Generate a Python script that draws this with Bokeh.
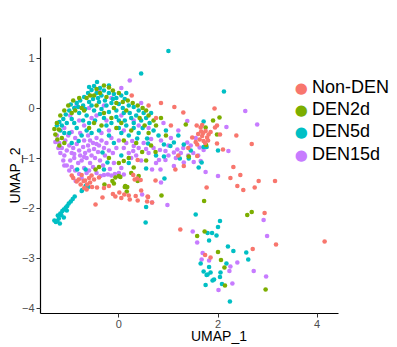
from bokeh.plotting import figure
from bokeh.models import Range1d, FixedTicker, Label, ColumnDataSource
from bokeh.embed import file_html
from bokeh.resources import INLINE

# ---------------- data (UMAP coordinates) ----------------
groups = ["Non-DEN", "DEN2d", "DEN5d", "DEN15d"]
colors = ["#F8766D", "#7CAE00", "#00BFC4", "#C77CFF"]
x_ticks = [0, 2, 4]
y_ticks = [-4, -3, -2, -1, 0, 1]

non_den = [
    (0.26, 0.25), (1.12, 0.02), (1.30, -0.09), (1.93, -0.01), (0.85, 0.10), (0.60, 0.05),
    (1.57, -0.35), (1.98, -0.35), (1.94, -0.39), (1.68, -0.34), (1.65, -0.39), (0.75, -0.20),
    (1.05, -0.35), (1.75, -0.46), (1.48, -0.59), (1.63, -0.63), (1.71, -0.66), (1.78, -0.59),
    (1.68, -0.56), (1.58, -0.73), (1.81, -0.53), (1.70, -0.50), (1.74, -0.70), (1.66, -0.47),
    (1.60, -0.52), (1.55, -0.68), (1.80, -0.65), (1.85, -0.48), (2.04, -0.53), (2.37, -0.55),
    (2.68, -0.72), (1.98, -0.71), (2.10, -0.83), (1.58, -0.96), (1.40, -0.80), (1.20, -0.95),
    (2.31, -1.18), (1.31, -1.16), (1.14, -1.23), (0.38, -1.04), (2.25, -1.40), (2.45, -1.34),
    (2.82, -1.46), (3.15, -1.46), (2.39, -1.56), (2.51, -1.64), (2.74, -1.59), (1.77, -1.59),
    (2.94, -2.10), (1.24, -2.43), (3.17, -2.73), (4.15, -2.67), (2.70, -2.82), (1.74, -2.94),
    (1.85, -2.99), (0.74, -1.45), (0.67, -1.89), (0.57, -1.87), (0.59, -1.78), (0.38, -1.85),
    (0.22, -1.83), (0.20, -1.75), (0.34, -1.76), (0.11, -1.73), (0.01, -1.69), (-0.07, -1.77),
    (-0.12, -1.72), (-0.33, -1.79), (-0.47, -1.93), (0.29, -1.34), (0.44, -1.44), (0.37, -1.41),
    (0.32, -1.43), (-0.20, -1.56), (-0.40, -1.39), (-0.50, -1.43), (-0.54, -1.58), (-0.64, -1.53),
    (-0.71, -1.46), (-0.77, -1.53), (-0.85, -1.47), (-0.65, -1.63), (-0.58, -1.49), (-0.75, -1.34),
    (-0.81, -1.43), (-0.44, -1.59), (-0.60, -1.40), (-0.92, -1.40), (-0.68, -1.45), (0.58, -1.77),
    (-0.95, -1.35), (-0.55, -1.35), (-0.30, -1.60), (0.05, -1.80), (0.45, -1.65), (-0.70, -1.60),
]

den2d = [
    (-0.20, 0.41), (-0.30, 0.45), (-0.45, 0.38), (-0.58, 0.25), (-0.65, 0.20), (-0.25, 0.22),
    (-0.12, 0.35), (0.00, 0.30), (0.08, 0.12), (0.18, 0.15), (0.28, 0.10), (0.38, 0.05),
    (0.48, 0.00), (0.55, -0.05), (0.60, -0.15), (0.70, -0.25), (0.75, -0.35), (0.52, -0.35),
    (-0.80, 0.20), (-0.92, 0.15), (-1.02, 0.05), (-1.10, -0.05), (-1.18, -0.15), (-1.25, -0.30),
    (-1.30, -0.42), (-1.28, -0.53), (-1.21, -0.43), (-1.24, -0.63), (-1.15, -0.60), (-1.10, -0.70),
    (-0.88, -0.05), (-0.70, -0.05), (-0.45, 0.05), (-0.10, 0.00), (0.15, -0.05), (-0.35, -0.35),
    (-0.05, -0.40), (0.25, -0.45), (-0.60, -0.40), (0.10, -0.65), (0.35, -0.70),
    (-0.38, 0.30), (-0.50, 0.25), (-0.05, 0.10), (-0.75, 0.00), (-0.95, -0.10), (-0.30, -0.10),
    (0.05, -0.30), (0.42, -0.20), (-0.15, -0.20), (-0.50, -0.30), (-1.20, -0.75), (0.60, -0.50),
    (0.85, -0.20), (0.95, -0.55),
    (0.47, -0.88), (0.65, -0.75), (0.74, -0.88), (1.41, -0.97), (1.76, -0.74), (1.75, -0.39),
    (1.98, -0.53), (1.35, -0.33), (1.90, -0.25), (2.03, -0.19), (0.10, -1.06), (0.20, -1.00),
    (-0.47, -1.23), (-0.40, -1.18), (-0.20, -1.00), (0.00, -1.10), (0.55, -1.05),
    (0.30, -1.19), (0.40, -1.36), (0.38, -1.46), (0.16, -1.67),
    (0.17, -1.58), (0.12, -1.58), (-0.10, -1.51), (-0.29, -1.53), (-0.13, -1.46), (0.13, -1.56),
    (0.00, -1.36), (-0.07, -1.39), (0.03, -1.38), (0.25, -1.30), (0.86, -1.75),
    (1.72, -1.86), (2.59, -2.14), (2.68, -2.08), (1.73, -2.47), (1.58, -2.56), (2.00, -2.88),
    (2.06, -3.04), (2.13, -3.19), (2.14, -3.55), (2.96, -3.63),
]

den5d = [
    (1.00, 1.14), (0.45, 0.69), (2.12, 0.33),
    (-0.44, 0.52), (-0.50, 0.44), (-0.38, 0.40), (-0.30, 0.35), (-0.55, 0.36), (-0.62, 0.30),
    (-0.45, 0.30), (-0.35, 0.25), (-0.20, 0.30), (-0.10, 0.28), (-0.05, 0.20), (0.05, 0.25),
    (0.12, 0.18), (-0.70, 0.22), (-0.78, 0.15), (-0.85, 0.10), (-0.97, 0.07), (-0.90, 0.00),
    (-1.00, -0.05), (-1.07, -0.13), (-1.12, -0.22), (-1.20, -0.28), (-1.25, -0.35), (-1.15, -0.35),
    (-1.05, -0.30), (-0.95, -0.22), (-0.80, -0.10), (-0.72, 0.05), (-0.60, 0.12), (-0.52, 0.18),
    (-0.40, 0.12), (-0.28, 0.15), (-0.15, 0.10), (0.00, 0.08), (0.20, 0.05), (0.30, 0.02),
    (0.40, -0.05), (0.50, -0.10), (0.55, -0.20), (0.62, -0.30), (0.45, -0.25), (0.35, -0.15),
    (0.25, -0.20), (0.10, -0.10), (-0.05, -0.05), (-0.20, -0.08), (-0.35, -0.02), (-0.50, -0.05),
    (-0.65, -0.15), (-0.60, -0.30), (-0.48, -0.25), (-0.30, -0.20), (-0.15, -0.30), (0.00, -0.25),
    (0.15, -0.35), (0.30, -0.40), (-0.85, -0.40), (-1.00, -0.50), (-0.75, -0.55), (-0.55, -0.50),
    (-0.40, -0.45), (-0.20, -0.55), (0.05, -0.50), (0.20, -0.55), (0.40, -0.50), (0.70, -0.45),
    (0.80, -0.55), (-0.81, -0.66), (-0.95, -0.70), (-0.10, -0.70),
    (-0.82, 0.02), (-0.68, -0.02), (-0.55, 0.05), (-0.42, 0.20), (-0.25, 0.05), (-0.12, 0.18),
    (0.08, 0.00), (0.22, -0.10), (-0.90, -0.30), (-0.72, -0.25), (-0.38, -0.12), (-0.25, -0.35),
    (-0.05, -0.18), (0.12, -0.25), (0.48, -0.40), (-1.10, -0.50), (-0.65, -0.45), (0.00, -0.40),
    (-0.20, 0.45), (-0.60, 0.42), (0.15, 0.30), (0.30, -0.30), (-1.18, -0.45), (0.65, -0.10),
    (0.37, -0.61), (0.57, -0.61), (0.59, -0.71), (0.91, -0.73), (1.04, -0.76), (1.11, -0.69),
    (1.31, -0.73), (0.91, -0.97), (1.23, -1.01), (1.41, -1.01), (1.61, -1.19), (1.67, -1.09),
    (1.71, -0.78), (1.77, -0.78), (2.00, -0.85), (1.71, -0.27), (1.20, -0.55), (0.95, -0.45),
    (1.45, -0.85), (0.75, -0.95), (0.55, -1.21), (-0.33, -0.89), (-0.23, -1.09), (-0.30, -1.23),
    (-0.67, -1.23), (-0.84, -1.23), (0.05, -0.95), (0.20, -1.10),
    (0.92, -1.41), (-0.65, -1.54), (-0.62, -1.58), (-0.67, -1.56), (-0.74, -1.64), (-0.75, -1.66),
    (0.54, -2.29), (0.55, -1.98),
    (-1.30, -2.25), (-1.24, -2.26), (-1.19, -2.31), (-1.21, -2.21), (-1.23, -2.15), (-1.18, -2.11),
    (-1.14, -2.06), (-1.11, -2.03), (-1.07, -1.99), (-1.04, -1.96), (-1.01, -1.91), (-0.97, -1.87),
    (-0.89, -1.77), (-1.11, -2.19), (-1.05, -2.05), (-1.16, -2.14), (-0.93, -1.82), (-1.27, -2.28),
    (1.55, -2.13), (2.04, -2.26), (1.79, -2.50), (1.88, -2.50), (2.00, -2.38), (1.97, -2.55),
    (1.82, -2.65), (2.20, -2.77), (2.31, -2.86), (2.57, -2.89), (2.61, -3.03), (1.65, -3.11),
    (2.17, -3.11), (1.82, -3.18), (1.71, -3.27), (1.85, -3.29), (2.05, -3.29), (1.79, -3.33),
    (1.77, -3.34), (2.04, -3.38), (1.92, -3.43), (1.89, -3.45), (2.08, -3.52), (1.75, -3.54),
    (2.24, -3.87),
]

den15d = [
    (0.22, 0.55), (2.55, -0.06), (2.79, -0.33), (2.17, -0.38), (1.38, -0.26),
    (-0.30, 0.05), (-0.60, 0.00), (-0.80, -0.25), (0.05, -0.15), (0.30, -0.25), (-0.15, 0.20),
    (-0.45, -0.15), (0.60, -0.40), (0.45, 0.10), (-1.10, -0.40), (-0.98, -0.15), (-0.70, -0.35),
    (-0.35, -0.50), (-0.20, -0.45), (0.10, -0.45), (-0.55, -0.20), (-0.25, -0.25), (0.40, -0.35),
    (-0.85, 0.05), (-0.40, 0.35), (0.05, 0.40),
    (-1.25, -0.55), (-1.20, -0.70), (-1.15, -0.80), (-1.18, -0.90), (-1.10, -0.95), (-1.05, -0.85),
    (-1.08, -0.65), (-1.00, -0.75), (-0.95, -0.90), (-0.98, -1.05), (-0.90, -1.00), (-0.92, -0.80),
    (-0.88, -0.60), (-0.85, -0.72), (-0.80, -0.85), (-0.78, -0.95), (-0.82, -1.10), (-0.75, -1.05),
    (-0.72, -0.78), (-0.70, -0.65), (-0.68, -0.90), (-0.65, -1.00), (-0.62, -0.75), (-0.60, -0.85),
    (-0.58, -1.10), (-0.55, -0.95), (-0.52, -0.70), (-0.50, -0.82), (-0.48, -1.00), (-0.45, -0.60),
    (-0.42, -0.88), (-0.40, -0.75), (-0.38, -1.05), (-0.35, -0.65), (-0.30, -0.80), (-0.28, -0.95),
    (-0.25, -0.70), (-0.20, -0.85), (-0.15, -0.60), (-0.12, -0.90), (-1.02, -0.55), (-0.95, -0.48),
    (-0.78, -0.50), (-0.62, -0.55), (-1.12, -1.05), (-1.05, -1.15), (-0.95, -1.18), (-0.88, -1.25),
    (-0.70, -1.20), (-0.60, -1.25), (-0.52, -1.18), (-0.45, -1.30), (-0.87, -1.46), (-0.75, -1.40),
    (-1.22, -0.80), (-1.28, -0.68), (-1.10, -1.15), (-1.00, -1.25), (-0.80, -1.32), (-0.65, -1.30),
    (-0.90, -0.92), (-0.70, -0.98), (-0.58, -0.65), (-0.45, -0.72), (-0.32, -1.15),
    (-0.37, -1.36), (-0.30, -1.34), (-0.22, -1.33), (-0.15, -1.35), (-0.08, -1.32), (0.00, -1.30),
    (0.10, -1.33), (0.05, -1.20), (-0.18, -1.22), (-0.10, -1.10),
    (0.00, -0.65), (0.15, -0.70), (0.27, -0.66), (0.30, -0.76), (0.29, -0.86), (0.40, -0.80),
    (0.50, -0.70), (0.60, -0.90), (0.70, -0.80), (0.83, -0.84), (0.94, -0.86), (0.81, -1.04),
    (0.94, -1.04), (1.00, -0.95), (1.11, -0.89), (1.18, -0.83), (1.25, -0.90), (1.30, -0.80),
    (1.38, -0.69), (1.45, -0.75), (1.50, -0.90), (1.31, -1.09), (1.11, -1.16), (1.51, -1.08),
    (1.65, -1.06), (1.63, -0.79), (1.71, -0.84), (2.21, -0.86), (1.55, -0.60), (1.05, -0.60),
    (0.85, -0.65), (0.67, -1.23), (0.84, -1.23), (0.45, -1.05), (0.20, -0.90), (0.10, -0.80),
    (1.20, -0.45), (0.90, -0.30),
    (0.35, -0.95), (0.55, -0.82), (0.75, -1.10), (1.00, -0.75), (1.15, -1.00), (1.40, -0.95),
    (1.60, -0.95), (0.65, -0.62), (0.25, -1.00), (-0.05, -0.80),
    (1.75, -1.28), (2.00, -1.36), (0.85, -1.49), (0.47, -1.73), (0.98, -1.94), (0.67, -1.89),
    (2.92, -2.24), (1.49, -2.47), (2.99, -2.56), (1.58, -2.69), (1.69, -2.90), (1.67, -3.03),
    (1.82, -3.05), (2.39, -3.09), (2.25, -3.17), (2.23, -3.26), (2.72, -3.26), (2.97, -3.37),
    (2.29, -3.51), (2.01, -3.64),
]

group_points = [non_den, den2d, den5d, den15d]

# ---------------- figure ----------------
FONT = "Liberation Sans"
X_AXIS_SPAN = (-1.58, 4.43)
Y_AXIS_SPAN = (-4.11, 1.41)

# the frame runs on to the right edge so that the legend beside the panel is not clipped;
# the axis lines themselves stop at the panel's limits (axis bounds)
p = figure(width=397, height=347,
           x_range=Range1d(-1.58, 5.62), y_range=Range1d(*Y_AXIS_SPAN),
           output_backend="svg", toolbar_location=None,
           min_border_left=40, min_border_right=0, min_border_top=37, min_border_bottom=34,
           background_fill_color="white", border_fill_color="white")
p.xgrid.visible = False
p.ygrid.visible = False
p.outline_line_color = None

draw_order = [3, 2, 1, 0]
for gi in draw_order:
    pts = group_points[gi]
    src = ColumnDataSource(dict(x=[a for a, b in pts], y=[b for a, b in pts]))
    p.scatter("x", "y", source=src, size=4.6, fill_color=colors[gi],
              line_color=None, marker="circle")

# axes
for ax, ticks, lab, span in ((p.xaxis[0], x_ticks, "UMAP_1", X_AXIS_SPAN),
                             (p.yaxis[0], y_ticks, "UMAP_2", Y_AXIS_SPAN)):
    ax.ticker = FixedTicker(ticks=ticks)
    ax.bounds = span
    ax.minor_tick_line_color = None
    ax.major_tick_in = 0
    ax.major_tick_out = 4
    ax.major_tick_line_color = "#333333"
    ax.axis_line_color = "black"
    ax.axis_line_width = 1.2
    ax.major_label_text_font = FONT
    ax.major_label_text_font_size = "11px"
    ax.major_label_text_color = "#4D4D4D"
    ax.major_label_standoff = 2
    ax.axis_label = lab
    ax.axis_label_text_font = FONT
    ax.axis_label_text_font_size = "14px"
    ax.axis_label_text_font_style = "normal"
    ax.axis_label_text_color = "black"
p.xaxis[0].axis_label_standoff = -3
p.yaxis[0].axis_label_standoff = -4

# legend (key dots + labels), placed in screen pixels relative to the frame
FRAME_LEFT, FRAME_BOTTOM = 40, 313
legend_rows_y = [86, 108.5, 130.5, 153]
for i, g in enumerate(groups):
    cy = FRAME_BOTTOM - legend_rows_y[i]
    p.add_layout(Label(x=300.7 - FRAME_LEFT, y=cy - 1, x_units="screen", y_units="screen",
                       text="\u25CF", text_font="DejaVu Sans", text_font_size="15px",
                       text_color=colors[i], text_align="center", text_baseline="middle"))
    p.add_layout(Label(x=311.5 - FRAME_LEFT, y=cy, x_units="screen", y_units="screen",
                       text=g, text_font=FONT, text_font_size="18px",
                       text_color="black", text_align="left", text_baseline="middle"))

open("out.html", "w").write(file_html(p, INLINE))
